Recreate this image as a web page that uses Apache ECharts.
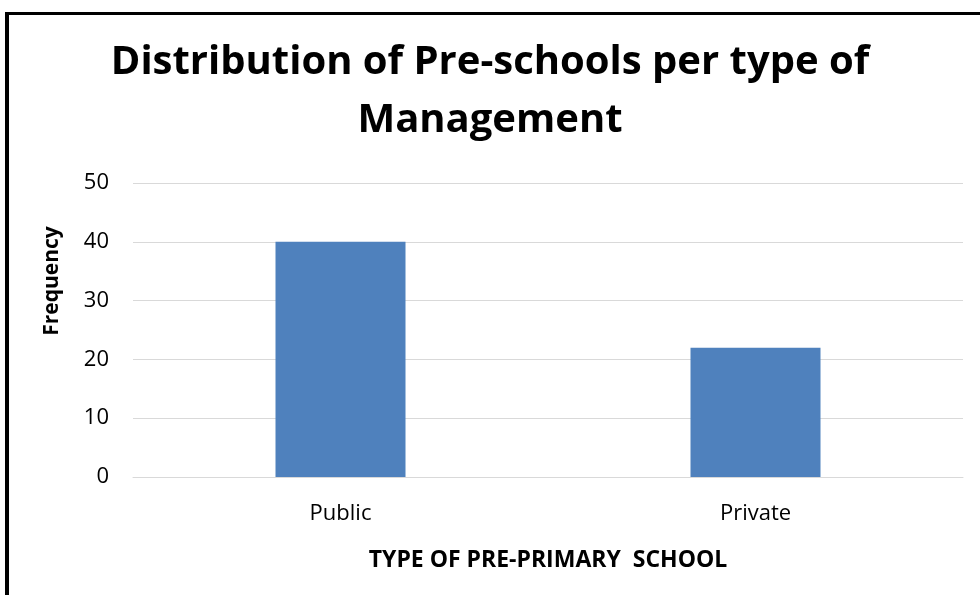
<!DOCTYPE html>
<html><head><meta charset="utf-8">
<script src="https://cdn.jsdelivr.net/npm/echarts@6/dist/echarts.min.js"></script>
<style>
html,body{margin:0;padding:0;background:#fff;}
#frame{position:absolute;left:5px;top:12px;width:990px;height:600px;border-left:4px solid #000;border-top:3px solid #000;}
#c{position:absolute;left:0;top:0;width:980px;height:595px;}
</style></head>
<body>
<div id="frame"></div>
<div id="c"></div>
<script>
const titleText = 'Distribution of Pre-schools per type of\nManagement';
const categories = ['Public', 'Private'];
const frequency = [40, 22];
const yTicks = [0, 10, 20, 30, 40, 50];
const xAxisName = 'TYPE OF PRE-PRIMARY  SCHOOL';
const yAxisName = 'Frequency';

const chart = echarts.init(document.getElementById('c'), null, {renderer: 'canvas'});
chart.setOption({
  animation: false,
  title: {
    text: titleText,
    left: 'center',
    top: 29,
    textStyle: {fontFamily: 'Open Sans', fontWeight: 'bold', fontSize: 40, color: '#000', lineHeight: 58}
  },
  grid: {left: 133, right: 17, top: 183, bottom: 118},
  xAxis: {
    type: 'category',
    data: categories,
    name: xAxisName,
    nameLocation: 'middle',
    nameGap: 72,
    nameTextStyle: {fontFamily: 'Open Sans', fontWeight: 'bold', fontSize: 23, color: '#000'},
    axisLine: {show: true, lineStyle: {color: '#d9d9d9', width: 1}},
    axisTick: {show: false},
    axisLabel: {fontFamily: 'Open Sans', fontSize: 22, color: '#000', margin: 26}
  },
  yAxis: {
    type: 'value',
    min: yTicks[0],
    max: yTicks[yTicks.length - 1],
    interval: 10,
    name: yAxisName,
    nameLocation: 'middle',
    nameGap: 70,
    nameTextStyle: {fontFamily: 'Open Sans', fontWeight: 'bold', fontSize: 21, color: '#000', padding: [0, 0, 0, 98]},
    axisLine: {show: false},
    axisTick: {show: false},
    axisLabel: {fontFamily: 'Open Sans', fontSize: 22, color: '#000', margin: 24},
    splitLine: {lineStyle: {color: '#d9d9d9', width: 1}}
  },
  series: [{
    type: 'bar',
    data: frequency,
    barWidth: 130,
    itemStyle: {color: '#4f81bd'}
  }]
});
</script>
</body></html>
